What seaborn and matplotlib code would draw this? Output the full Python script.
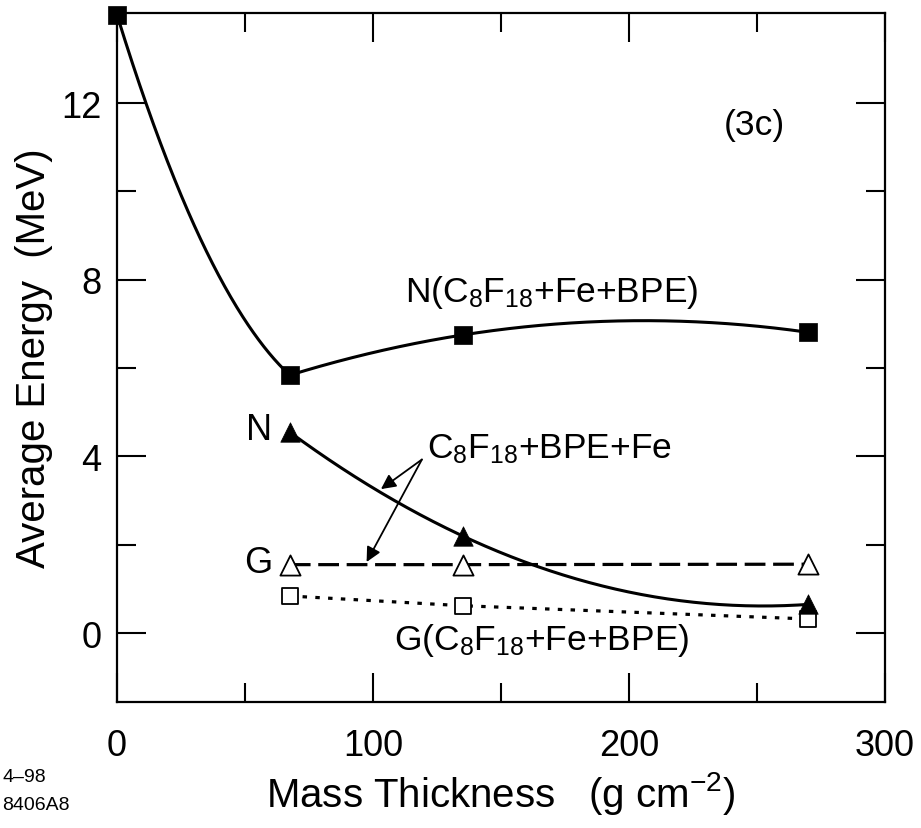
import numpy as np
import pandas as pd
import matplotlib
matplotlib.use("Agg")
import matplotlib.pyplot as plt
from matplotlib.ticker import FixedLocator
import seaborn as sns

# Mass thickness of the shield (g cm^-2)
thickness = [0, 67.5, 135, 270]
# Average energy (MeV) for each configuration
n_fe_bpe = [14.0, 5.84, 6.75, 6.81]      # N(C8F18+Fe+BPE), filled squares
n_bpe_fe = [4.55, 2.20, 0.65]            # N, C8F18+BPE+Fe, filled triangles
g_bpe_fe = [1.55, 1.55, 1.56]            # G, C8F18+BPE+Fe, open triangles
g_fe_bpe = [0.84, 0.62, 0.32]            # G(C8F18+Fe+BPE), open squares

x_major = [0, 100, 200, 300]
x_minor = [50, 150, 250]
y_major = [0, 4, 8, 12]
y_minor = [2, 6, 10]

sns.set_theme(style="ticks")
plt.rcParams["font.family"] = ["Liberation Sans", "DejaVu Sans"]
plt.rcParams["mathtext.fontset"] = "custom"
plt.rcParams["mathtext.rm"] = "Liberation Sans"
plt.rcParams["mathtext.it"] = "Liberation Sans:italic"
plt.rcParams["mathtext.bf"] = "Liberation Sans:bold"
for key in ("text.color", "axes.labelcolor", "xtick.color", "ytick.color",
            "axes.edgecolor"):
    plt.rcParams[key] = "black"

fig = plt.figure(figsize=(9.21, 8.29), dpi=100)
ax = fig.add_axes([117 / 921, 1 - 703 / 829, (885 - 117) / 921, (703 - 14) / 829])

x_tail = thickness[1:]

# smooth quadratic fits through the measured points
def quad_curve(xs, ys, lo, hi):
    coef = np.polyfit(xs, ys, 2)
    xx = np.linspace(lo, hi, 200)
    return pd.DataFrame({"x": xx, "y": np.polyval(coef, xx)})

seg1 = quad_curve(thickness[:3], n_fe_bpe[:3], thickness[0], thickness[1])
seg2 = quad_curve(x_tail, n_fe_bpe[1:], thickness[1], thickness[-1])
seg3 = quad_curve(x_tail, n_bpe_fe, thickness[1], thickness[-1])

for seg in (seg1, seg2, seg3):
    sns.lineplot(data=seg, x="x", y="y", ax=ax, color="black", lw=2.2,
                 sort=False, estimator=None, zorder=2)

# straight connections for the G series
dashed = ax.plot(x_tail, g_bpe_fe, color="black", lw=2.3, zorder=2)[0]
dashed.set_dashes((6.5, 2.4))
dotted = ax.plot(x_tail, g_fe_bpe, color="black", lw=2.3, zorder=2)[0]
dotted.set_dashes((1.4, 2.6))

# markers
sns.scatterplot(x=thickness, y=n_fe_bpe, ax=ax, marker="s", s=12.5 ** 2,
                color="black", edgecolor="black", linewidth=0.5, zorder=4,
                clip_on=False)
sns.scatterplot(x=x_tail, y=g_fe_bpe, ax=ax, marker="s", s=11.5 ** 2,
                facecolor="white", edgecolor="black", linewidth=1.3, zorder=4,
                clip_on=False)
sns.scatterplot(x=x_tail, y=n_bpe_fe, ax=ax, marker="^", s=14 ** 2,
                color="black", edgecolor="black", linewidth=0.5, zorder=5,
                clip_on=False)
sns.scatterplot(x=x_tail, y=g_bpe_fe, ax=ax, marker="^", s=14.5 ** 2,
                facecolor="white", edgecolor="black", linewidth=1.3, zorder=4,
                clip_on=False)

ax.set_xlim(0, 300)
ax.set_ylim(-1.56, 14.04)

ax.xaxis.set_major_locator(FixedLocator(x_major))
ax.xaxis.set_minor_locator(FixedLocator(x_minor))
ax.yaxis.set_major_locator(FixedLocator(y_major))
ax.yaxis.set_minor_locator(FixedLocator(y_minor))
ax.set_xticklabels([str(v) for v in x_major])
ax.set_yticklabels([str(v) for v in y_major])

ax.tick_params(which="both", direction="in", top=True, right=True,
               color="black", width=1.5)
ax.tick_params(which="major", length=21)
ax.tick_params(which="minor", length=13.5)
ax.tick_params(axis="x", which="major", labelsize=26, pad=19)
ax.tick_params(axis="y", which="major", labelsize=26, pad=11)

for sp in ax.spines.values():
    sp.set_linewidth(1.6)
    sp.set_color("black")

ax.set_xlabel("Mass Thickness   (g cm$^{-2}$)", fontsize=29, labelpad=4)
ax.set_ylabel("Average Energy  (MeV)", fontsize=29, labelpad=6)

# annotations
ax.text(249, 11.3, "(3c)", fontsize=25.5, ha="center", va="baseline")
ax.text(112.5, 7.52, "N(C$_8$F$_{18}$+Fe+BPE)", fontsize=25.5,
        ha="left", va="baseline")
ax.text(121, 3.97, "C$_8$F$_{18}$+BPE+Fe", fontsize=25.5,
        ha="left", va="baseline")
ax.text(108.2, -0.36, "G(C$_8$F$_{18}$+Fe+BPE)", fontsize=25.5,
        ha="left", va="baseline")
ax.text(55.5, 4.39, "N", fontsize=26, ha="center", va="baseline")
ax.text(55, 1.38, "G", fontsize=26, ha="center", va="baseline")

arrow_kw = dict(arrowstyle="-|>", color="black", lw=1.3,
                mutation_scale=22, shrinkA=0, shrinkB=0)
ax.annotate("", xy=(103.1, 3.26), xytext=(119.1, 3.93), arrowprops=arrow_kw)
ax.annotate("", xy=(97.5, 1.61), xytext=(119.1, 3.93), arrowprops=arrow_kw)

fig.text(2 / 921, 1 - 782 / 829, "4\u201398", fontsize=14, ha="left",
         va="baseline")
fig.text(2 / 921, 1 - 810 / 829, "8406A8", fontsize=14, ha="left",
         va="baseline")

fig.savefig("out.png", dpi=100)
